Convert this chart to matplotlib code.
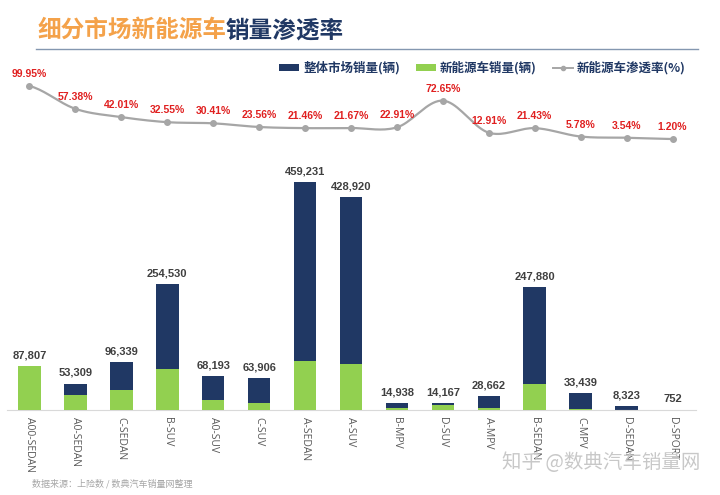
import matplotlib.pyplot as plt
import numpy as np

plt.rcParams['font.family'] = ['Noto Sans CJK SC', 'DejaVu Sans']

# ----------------------------
# data
# ----------------------------
segments = ["A00-SEDAN", "A0-SEDAN", "C-SEDAN", "B-SUV", "A0-SUV", "C-SUV", "A-SEDAN",
            "A-SUV", "B-MPV", "D-SUV", "A-MPV", "B-SEDAN", "C-MPV", "D-SEDAN", "D-SPORT"]
total_sales = [87807, 53309, 96339, 254530, 68193, 63906, 459231,
               428920, 14938, 14167, 28662, 247880, 33439, 8323, 752]
nev_sales = [87763, 30589, 40472, 82850, 20737, 15056, 98551,
             92947, 3422, 10292, 3700, 53121, 1933, 295, 9]
penetration = [99.95, 57.38, 42.01, 32.55, 30.41, 23.56, 21.46,
               21.67, 22.91, 72.65, 12.91, 21.43, 5.78, 3.54, 1.20]

NAVY = "#203864"
GREEN = "#92D050"
GRAY_LINE = "#A6A6A6"
NUM_FONT = ['Liberation Sans', 'Noto Sans CJK SC']

W, H = 720, 495
fig = plt.figure(figsize=(7.2, 4.95), dpi=100)

def box(x0, y0, x1, y1):
    # pixel box -> figure fraction
    return [x0 / W, 1 - y1 / H, (x1 - x0) / W, (y1 - y0) / H]

x = np.arange(len(segments))

# ----------------------------
# bars
# ----------------------------
ax = fig.add_axes(box(6.5, 150, 695.5, 410))
ax.bar(x, total_sales, width=0.49, color=NAVY, zorder=2, label="整体市场销量(辆)")
ax.bar(x, nev_sales, width=0.49, color=GREEN, zorder=3, label="新能源车销量(辆)")
ax.set_xlim(-0.5, len(segments) - 0.5)
ax.set_ylim(0, 459231 * 260 / 228)
for xi, v in zip(x, total_sales):
    ax.annotate(f"{v:,}", (xi, v), xytext=(0, 4), textcoords="offset points",
                ha="center", va="bottom", fontsize=8, fontweight="bold",
                color="#404040", family=NUM_FONT)
for s in ["top", "right", "left"]:
    ax.spines[s].set_visible(False)
ax.spines["bottom"].set_color("#D9D9D9")
ax.set_yticks([])
ax.set_xticks(x)
ax.set_xticklabels(segments, rotation=-90, fontsize=7.5, color="#595959",
                   family=['Open Sans', 'Noto Sans CJK SC'])
ax.tick_params(axis="x", length=0, pad=5)

# ----------------------------
# penetration line (smoothed for drawing)
# ----------------------------
lax = fig.add_axes(box(6.5, 80, 695.5, 145))
lax.set_xlim(-0.5, len(segments) - 0.5)
step = 98.75 / 53
lax.set_ylim(1.20 - 6 * step, 99.95 + 6 * step)
p = np.array(penetration)
xs, ys = [], []
pp = np.concatenate([[p[0]], p, [p[-1]]])
for i in range(len(p) - 1):
    p0, p1, p2, p3 = pp[i], pp[i + 1], pp[i + 2], pp[i + 3]
    t = np.linspace(0, 1, 20)
    seg = 0.5 * ((2 * p1) + (-p0 + p2) * t + (2 * p0 - 5 * p1 + 4 * p2 - p3) * t ** 2
                 + (-p0 + 3 * p1 - 3 * p2 + p3) * t ** 3)
    xs.extend(i + t)
    ys.extend(seg)
lax.plot(xs, ys, color=GRAY_LINE, lw=1.6, zorder=2)
lax.plot(x, p, ls="none", marker="o", ms=4, color=GRAY_LINE, zorder=3)
for xi, v in zip(x, penetration):
    lax.annotate(f"{v:.2f}%", (xi, v), xytext=(0, 5), textcoords="offset points",
                 ha="center", va="bottom", fontsize=7.5, fontweight="bold",
                 color="#E02020", family=NUM_FONT)
lax.axis("off")

# ----------------------------
# legend
# ----------------------------
line_handle = plt.Line2D([], [], color=GRAY_LINE, lw=1.4, marker="o", ms=3)
handles, labels = ax.get_legend_handles_labels()
handles.append(line_handle)
labels.append("新能源车渗透率(%)")
leg = fig.legend(handles, labels, loc="center right", bbox_to_anchor=(697 / W, 1 - 68 / H),
                 ncol=3, frameon=False, fontsize=9, handlelength=1.6, handleheight=0.5,
                 handletextpad=0.3, columnspacing=1.3)
for t in leg.get_texts():
    t.set_fontweight("bold")
    t.set_color(NAVY)

# ----------------------------
# title, rule, notes
# ----------------------------
t1 = fig.text(37 / W, 1 - 30 / H, "细分市场新能源车", fontsize=17, fontweight="bold",
              color="#F4A24A", va="center", ha="left")
fig.canvas.draw()
bb = t1.get_window_extent()
fig.text(bb.x1 / W, 1 - 30 / H, "销量渗透率", fontsize=17, fontweight="bold",
         color=NAVY, va="center", ha="left")
fig.add_artist(plt.Line2D([36 / W, 698 / W], [1 - 49 / H, 1 - 49 / H],
                          color="#8497B0", lw=1.0))

fig.text(32 / W, 1 - 484 / H, "数据来源：上险数 / 数典汽车销量网整理", fontsize=6.5,
         color="#A6A6A6", va="center", ha="left")
fig.text(700 / W, 1 - 462 / H, "知乎 @数典汽车销量网", fontsize=14,
         color="#C8C8C8", va="center", ha="right", zorder=0)

fig.savefig("out.png", dpi=100)
